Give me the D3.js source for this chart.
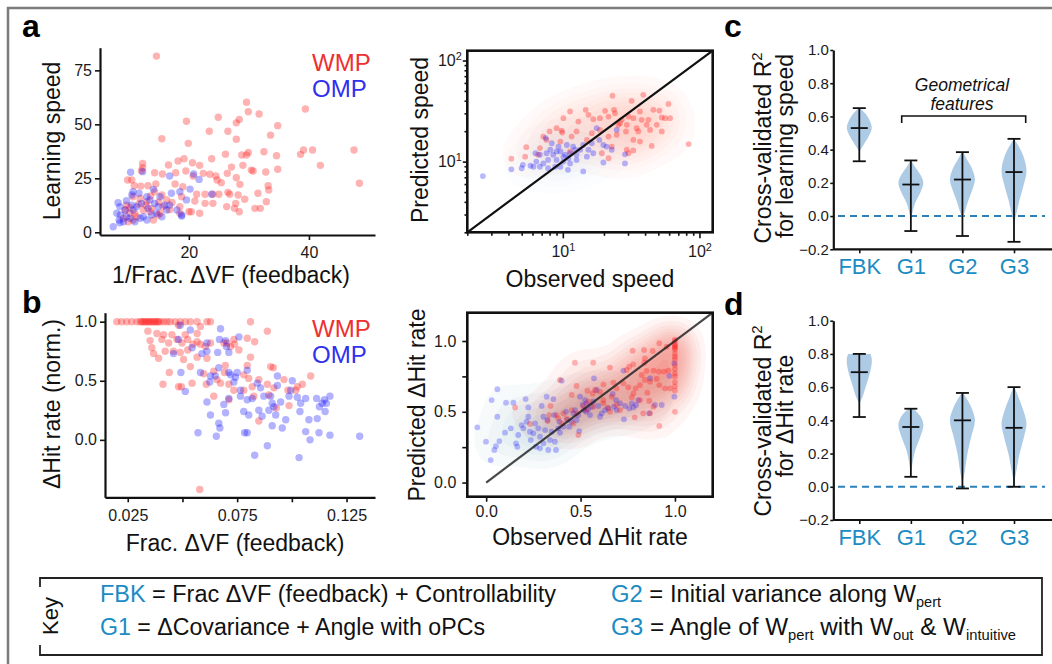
<!DOCTYPE html>
<html>
<head>
<meta charset="utf-8">
<script src="https://cdn.jsdelivr.net/npm/d3@7"></script>
<style>
body { margin: 0; background: #fff; }
svg { display: block; font-family: "Liberation Sans", Arial, sans-serif; }
</style>
</head>
<body>
<svg id="fig" width="1052" height="664"></svg>
<script>
// ---- panel a, left: 1/Frac dVF vs learning speed
const speedRed = [[14.6,81.6],[29.6,60.2],[29.9,55.8],[31.7,54.8],[24.9,53.3],[28.4,52.3],[27.9,50.7],[19.6,51.4],[34.8,49.4],[39.4,57.1],[23.4,46.8],[26.5,46.8],[33.6,45],[15.5,43.3],[27.9,43.1],[19.9,41.2],[29.9,37],[29.6,35.8],[32.5,37.3],[26.1,36.2],[28.8,35.8],[34.6,35.5],[38.6,36.1],[39.1,38.1],[40.6,38.1],[41.9,31],[47.5,38.1],[48.4,22.7],[23.8,34.1],[19.2,34.1],[18.2,33],[20.6,32.2],[21.8,31],[16.6,31.2],[12.3,31.9],[12.3,29.9],[12.1,28.5],[29,31],[30.4,28.8],[30.7,28.4],[34.8,29.2],[32.8,27.9],[27.1,30.2],[26.4,27.3],[24.5,26.1],[23.5,26.9],[22.4,27.3],[19.5,28.4],[17.8,27.6],[15.6,27],[14.3,27.6],[20.7,26.1],[24.7,24.2],[25.4,23],[27.9,25.3],[28.5,22.2],[33.2,21.6],[33.3,19.6],[9.8,24.2],[10.5,24.2],[10.9,21.6],[12,21.4],[13.2,21.6],[14.5,22.4],[17.7,22.4],[19,21.1],[21.3,17.6],[22.7,17.6],[24,17.6],[25,17.6],[26.5,18.5],[26.8,17.6],[28.2,17.3],[29.3,15.3],[31.5,18.1],[32.9,14.2],[22.7,13.4],[24,13.4],[26.3,11.9],[27.8,13.4],[27.6,11.1],[28.4,9.5],[31,11.1],[31.9,11.1],[20,9.5],[20.4,9.5],[21.8,8.8],[18.5,11.9],[18.5,8.8],[16.3,15],[15.5,17.3],[14.3,18.8],[10.7,16.5],[11.9,15.7],[13,14.2],[9.6,12.6],[9.4,10.3],[10.2,8.8],[11,8.8],[12.4,10.3],[13.8,11.1],[14.1,5.7],[9.9,4.9],[10.7,5.7],[11.3,7.2],[14.9,8],[9.1,6.5],[15.7,11.9],[15.2,8.8],[13.5,9.5],[12.8,12.5],[16.8,10.5],[17.2,13.8],[11.6,13],[10.2,11.5],[15,14],[13.6,16.8],[18.8,16.5],[21,14.5]];
const speedBlue = [[7.4,2.6],[10.3,27.8],[12.3,28.1],[16.8,26.1],[21.7,24.5],[20.8,27],[20.2,20],[23.8,17.6],[19.6,15],[10.7,18.8],[10.5,17.3],[14.1,19.9],[17.1,18.1],[18.5,18.8],[18.8,8],[8.2,13.7],[8.5,11.9],[9.6,14.6],[8.6,8],[8.4,5.7],[9.1,4.9],[8.5,4.4],[9.6,7.2],[10.7,10.3],[11.3,11.9],[12.1,13.4],[12.4,7.2],[13.2,11.1],[13.5,15],[14.3,13.4],[14.9,11.9],[15.2,16.5],[16,12.6],[16.3,10.3],[13,5.7],[11.9,6.5],[11,4.9],[10.2,6.5],[14.6,8.8],[16.8,12.6],[18,10.3],[13,16.5],[11.7,18.1],[9.4,10.3],[8,8.8],[15.5,7.2],[13.8,8],[10.5,12.6],[18.8,7.5]];
const speedTicksX = [20, 40];
const speedTicksY = [0, 25, 50, 75];

// ---- panel b, left: Frac dVF vs dHit rate
const hitRed = [[0.0200,1],[0.0222,1],[0.0245,1],[0.0268,1],[0.0291,1],[0.0307,1],[0.0315,1],[0.0322,1],[0.0330,1],[0.0337,1],[0.0345,1],[0.0352,1],[0.0360,1],[0.0368,1],[0.0375,1],[0.0383,1],[0.0390,1],[0.0398,1],[0.0414,1],[0.0429,1],[0.0444,1],[0.0467,1],[0.0490,1],[0.0513,1],[0.0536,1],[0.0567,1],[0.0612,1],[0.0628,1],[0.0811,1],[0.0342,0.92],[0.0383,0.90],[0.0352,0.84],[0.0360,0.78],[0.0414,0.89],[0.0406,0.85],[0.0437,0.82],[0.0452,0.89],[0.0475,0.85],[0.0498,0.82],[0.0459,0.75],[0.0490,0.74],[0.0524,0.76],[0.0548,0.81],[0.0567,0.83],[0.0582,0.81],[0.0605,0.79],[0.0628,0.82],[0.0567,0.70],[0.0612,0.69],[0.0536,0.62],[0.0505,0.68],[0.0440,0.57],[0.0411,0.47],[0.0495,0.45],[0.0544,0.48],[0.0597,0.56],[0.0643,0.58],[0.0658,0.51],[0.0674,0.48],[0.0712,0.47],[0.0712,0.34],[0.0643,0.37],[0.0609,0.47],[0.0735,0.85],[0.0738,0.81],[0.0720,0.79],[0.0758,0.76],[0.0796,0.86],[0.0830,0.83],[0.0811,0.70],[0.0796,0.63],[0.0780,0.55],[0.0803,0.52],[0.0849,0.51],[0.0888,0.92],[0.0903,0.62],[0.0915,0.61],[0.0888,0.47],[0.0918,0.44],[0.0895,0.38],[0.0964,0.51],[0.0982,0.42],[0.1025,0.45],[0.1048,0.47],[0.1018,0.42],[0.0987,0.29],[0.1086,0.54],[0.0849,0.16],[0.0929,0.27],[0.0579,-0.42],[0.0482,0.45],[0.0692,0.57],[0.0735,0.42],[0.0780,0.42],[0.0819,0.45],[0.0826,0.37],[0.0368,0.73],[0.0391,0.69],[0.0421,0.75],[0.0513,0.89],[0.0524,0.85],[0.0567,0.90],[0.0482,0.97],[0.0582,0.96],[0.0696,0.63],[0.0689,0.82],[0.0704,0.82]];
const hitBlue = [[0.0490,0.97],[0.0482,0.85],[0.0536,0.93],[0.0459,0.73],[0.0493,0.57],[0.0513,0.41],[0.0544,0.78],[0.0582,0.57],[0.0589,0.73],[0.0612,0.75],[0.0612,0.82],[0.0628,0.54],[0.0625,0.49],[0.0650,0.54],[0.0661,0.74],[0.0669,0.85],[0.0674,0.94],[0.0697,0.84],[0.0701,0.79],[0.0712,0.74],[0.0712,0.57],[0.0720,0.55],[0.0735,0.49],[0.0742,0.53],[0.0750,0.57],[0.0758,0.87],[0.0765,0.42],[0.0765,0.37],[0.0796,0.34],[0.0819,0.35],[0.0842,0.48],[0.0857,0.44],[0.0872,0.37],[0.0849,0.25],[0.0864,0.20],[0.0903,0.37],[0.0910,0.31],[0.0918,0.28],[0.0926,0.21],[0.0934,0.46],[0.0949,0.32],[0.0972,0.17],[0.0910,0.12],[0.0956,0.10],[0.0995,0.42],[0.1002,0.50],[0.1025,0.36],[0.1037,0.24],[0.1040,0.31],[0.1063,0.35],[0.1063,0.07],[0.1078,0.17],[0.1113,0.35],[0.1116,0.18],[0.1126,0.28],[0.1139,0.31],[0.1149,0.34],[0.1158,0.31],[0.1174,0.37],[0.1152,0.24],[0.1124,0.06],[0.1174,0.04],[0.1083,0.00],[0.1033,-0.15],[0.0888,-0.05],[0.0830,-0.13],[0.0796,0.06],[0.0784,0.06],[0.0655,0.03],[0.0571,0.06],[0.0666,0.14],[0.0671,0.10],[0.0697,0.23],[0.0628,0.21],[0.0612,0.32],[0.0689,0.30],[0.0712,0.35],[0.0780,0.24],[0.0803,0.21],[0.0895,0.25],[0.0987,0.37],[0.0934,0.54],[0.0796,0.59],[0.0666,0.61],[0.1310,0.03]];
const hitTicksX = [0.025, 0.05, 0.075, 0.1, 0.125];
const hitTicksY = [0, 0.5, 1];

// ---- panel a, middle: observed vs predicted speed (log-log)
const predSpeedRed = [[23.1,44.8],[38.8,45.8],[31.9,39.9],[59.3,37.2],[11.3,31.3],[14.7,32.5],[20.4,31.8],[23.7,32.5],[46,32.5],[50.9,32],[10.1,26.9],[15.4,29],[13,24.9],[16.7,26.3],[18.7,26.9],[21.6,27.9],[27,25.9],[30.2,27.9],[32.8,26.9],[36.7,31.3],[37.8,25.9],[42.3,25.9],[53,27.3],[56,26.9],[60.9,26.9],[48.7,23.1],[53,19.9],[43.5,20.6],[34.7,21.4],[25.5,23.1],[29,19.9],[24.8,18.4],[21.6,17.7],[18.7,20.6],[12.6,19.9],[9.8,20.3],[9,21.4],[8,19.9],[7.2,17.7],[11.6,17.7],[9.6,15.8],[15,16.4],[32.8,16.4],[36.7,15.8],[29.4,13.1],[30.2,12.1],[32.8,12.9],[44.7,14.3],[83.4,14.9],[6.8,13.6],[6.6,11.7],[5.4,13.9],[5.3,11.2],[4.2,10.7],[11.3,12.6],[19.3,12.1],[21.6,10.8],[7.6,16.4],[9.9,19.4],[24.1,30.1],[26.2,24],[29.4,23.1],[35.7,19.9],[41.1,23.1],[16.3,19.1],[22.8,14.1]];
const predSpeedBlue = [[2.6,7.2],[4.2,8.4],[5.1,9.3],[5.8,9.1],[6.4,10],[7.5,17.1],[8.3,15.2],[9.3,14.1],[10.7,14.6],[11.9,14.1],[13.4,13.1],[14.1,14.6],[16.3,15.2],[17.7,21.4],[18.5,16.4],[19.8,14.6],[24.8,20.6],[28.5,11.8],[28.5,9.6],[19.8,9.8],[14.1,8],[10.9,8.3],[9,10.4],[10.1,11.2],[8.5,11.7],[7.8,10.4],[7.2,9.6],[6.8,8.9],[7.8,8.6],[9.6,8.9],[11.3,9.6],[12.6,10.4],[15,11.2],[16.7,12.1],[11.3,12.1],[12.3,13.1],[9.6,12.6],[8.1,13.1],[6.8,11.7],[6.3,12.1],[7.6,12.1],[10.4,11.7],[11,10.8],[12.6,11.7],[20.9,14.1],[22.8,13.1],[15.4,13.1],[6.1,8.9],[5,8.6],[9,12.6],[10.1,10],[8.8,8.9]];
const logMajor = [10, 100];
const logMinor = [2, 3, 4, 5, 6, 7, 8, 9, 20, 30, 40, 50, 60, 70, 80, 90];

// ---- panel b, middle: observed vs predicted dHit rate
const predHitRed = [[1,1.01],[1,1.0],[1,0.98],[1,0.97],[1,0.96],[1,0.95],[1,0.94],[1,0.91],[1,0.89],[1,0.87],[1,0.83],[1,0.80],[1,0.77],[1,0.75],[1,0.71],[1,0.68],[1,0.65],[1,0.5],[0.776,0.932],[0.836,0.937],[0.882,0.93],[0.917,0.984],[0.956,0.96],[0.841,0.878],[0.838,0.847],[0.47,0.847],[0.567,0.847],[0.656,0.812],[0.744,0.795],[0.779,0.835],[0.758,0.819],[0.85,0.788],[0.886,0.791],[0.915,0.783],[0.942,0.783],[0.965,0.791],[0.824,0.76],[0.841,0.725],[0.868,0.713],[0.903,0.732],[0.917,0.689],[0.947,0.666],[0.974,0.666],[0.391,0.725],[0.479,0.682],[0.453,0.619],[0.536,0.649],[0.621,0.694],[0.674,0.706],[0.691,0.666],[0.727,0.701],[0.753,0.673],[0.792,0.666],[0.815,0.689],[0.78,0.63],[0.771,0.602],[0.815,0.583],[0.854,0.635],[0.864,0.576],[0.886,0.536],[0.832,0.489],[0.868,0.489],[0.787,0.461],[0.917,0.4],[0.665,0.607],[0.621,0.583],[0.603,0.642],[0.577,0.654],[0.564,0.63],[0.644,0.531],[0.621,0.56],[0.656,0.501],[0.567,0.536],[0.541,0.571],[0.515,0.541],[0.479,0.489],[0.453,0.512],[0.409,0.489],[0.382,0.454],[0.4,0.418],[0.373,0.477],[0.426,0.454],[0.488,0.336],[0.462,0.418],[0.341,0.541],[0.334,0.477],[0.153,0.531],[0.691,0.548],[0.709,0.512],[0.532,0.512],[0.232,0.414],[0.326,0.435]];
const predHitBlue = [[-0.047,0.39],[-0.001,0.289],[0.024,0.159],[0.043,0.23],[0.052,0.258],[0.059,0.659],[0.029,0.583],[0.059,0.465],[0.07,0.293],[0.1,0.352],[0.105,0.564],[0.13,0.383],[0.144,0.564],[0.158,0.277],[0.165,0.253],[0.17,0.336],[0.188,0.406],[0.197,0.383],[0.209,0.59],[0.214,0.43],[0.223,0.465],[0.223,0.531],[0.232,0.359],[0.236,0.3],[0.25,0.348],[0.259,0.418],[0.264,0.253],[0.276,0.383],[0.285,0.324],[0.285,0.242],[0.294,0.541],[0.303,0.465],[0.303,0.277],[0.312,0.371],[0.32,0.607],[0.324,0.442],[0.329,0.23],[0.338,0.3],[0.347,0.359],[0.356,0.59],[0.361,0.477],[0.364,0.289],[0.37,0.23],[0.382,0.383],[0.388,0.43],[0.4,0.72],[0.391,0.352],[0.409,0.395],[0.423,0.501],[0.43,0.442],[0.44,0.395],[0.453,0.43],[0.462,0.489],[0.47,0.512],[0.479,0.442],[0.488,0.477],[0.493,0.364],[0.497,0.607],[0.511,0.548],[0.518,0.512],[0.524,0.583],[0.532,0.56],[0.529,0.501],[0.541,0.517],[0.55,0.477],[0.559,0.536],[0.567,0.571],[0.571,0.736],[0.585,0.654],[0.594,0.541],[0.603,0.465],[0.612,0.489],[0.63,0.512],[0.647,0.524],[0.67,0.626],[0.677,0.536],[0.691,0.512],[0.709,0.56],[0.73,0.447],[0.736,0.541],[0.727,0.791],[0.758,0.524],[0.771,0.56],[0.78,0.531],[0.794,0.548],[0.806,0.583],[0.864,0.489],[0.868,0.736],[0.93,0.548],[0.97,0.753],[0.997,0.842],[0.997,0.607],[0.894,0.548],[0.688,0.583]];
const predHitTicksX = [0, 0.5, 1];
const predHitTicksY = [0, 0.25, 0.5, 0.75, 1];

// ---- panels c, d: cross-validated R2 violins
const catLabels = ['FBK', 'G1', 'G2', 'G3'];
const r2Ticks = [-0.2, 0, 0.2, 0.4, 0.6, 0.8, 1.0];
const speedR2Min = [0.33, -0.09, -0.12, -0.155];
const speedR2Max = [0.65, 0.335, 0.385, 0.465];
const speedR2Med = [0.53, 0.19, 0.22, 0.265];
const speedR2Shape = [
  [[0.39,0],[0.43,0.35],[0.48,0.75],[0.53,1],[0.58,0.8],[0.62,0.45],[0.65,0.05]],
  [[-0.03,0],[0.02,0.12],[0.08,0.35],[0.14,0.75],[0.2,1],[0.25,0.75],[0.3,0.3],[0.335,0.02]],
  [[-0.02,0],[0.04,0.25],[0.1,0.5],[0.16,0.8],[0.22,1],[0.28,0.8],[0.33,0.45],[0.385,0.05]],
  [[-0.05,0],[0.02,0.2],[0.1,0.45],[0.18,0.75],[0.27,1],[0.35,0.8],[0.41,0.45],[0.46,0.05]]
];
const hitR2Min = [0.42, 0.06, -0.01, 0.0];
const hitR2Max = [0.80, 0.47, 0.565, 0.60];
const hitR2Med = [0.69, 0.36, 0.40, 0.355];
const hitR2Shape = [
  [[0.5,0],[0.54,0.25],[0.6,0.5],[0.66,0.75],[0.72,0.95],[0.77,1],[0.8,0.9]],
  [[0.08,0],[0.15,0.15],[0.22,0.35],[0.3,0.75],[0.37,1],[0.42,0.8],[0.47,0.2]],
  [[0.02,0],[0.1,0.2],[0.2,0.4],[0.3,0.7],[0.4,1],[0.48,0.7],[0.53,0.35],[0.565,0.05]],
  [[0.02,0],[0.1,0.2],[0.2,0.45],[0.3,0.8],[0.38,1],[0.46,0.75],[0.54,0.35],[0.6,0.05]]
];

const RED = '#ff1414', BLUE = '#1414ff', INK = '#111', CAT = '#1b8bc3';
const svg = d3.select('#fig');

// outer frame
svg.append('path').attr('d', 'M8,664V8H1052')
  .attr('fill', 'none').attr('stroke', '#7b7b7b').attr('stroke-width', 2.5);

function fixAxis(g, fs, w) {
  g.attr('font-size', fs).attr('font-family', null);
  g.select('.domain').attr('stroke-width', w).attr('stroke', INK);
  g.selectAll('.tick line').attr('stroke-width', 1.6).attr('stroke', INK);
  g.selectAll('.tick text').attr('fill', '#1a1a1a');
}

function dots(g, pts, xs, ys, color, r, op) {
  g.append('g').selectAll('circle').data(pts).join('circle')
    .attr('cx', d => xs(d[0])).attr('cy', d => ys(d[1]))
    .attr('r', r).attr('fill', color).attr('fill-opacity', op);
}

function title(x, y, txt, rot, fs) {
  return svg.append('text')
    .attr('transform', `translate(${x},${y})` + (rot ? ' rotate(-90)' : ''))
    .attr('text-anchor', 'middle').attr('dominant-baseline', 'central')
    .attr('font-size', fs || 23).attr('fill', INK).text(txt);
}

function letter(x, y, t) {
  svg.append('text').attr('x', x).attr('y', y).attr('font-size', 32)
    .attr('font-weight', 'bold').attr('fill', '#000').text(t);
}

function legend(x, y) {
  svg.append('text').attr('x', x).attr('y', y).attr('font-size', 24)
    .attr('dominant-baseline', 'central').attr('fill', '#ee3030').text('WMP');
  svg.append('text').attr('x', x).attr('y', y + 26).attr('font-size', 24)
    .attr('dominant-baseline', 'central').attr('fill', '#3030ee').text('OMP');
}

function kde(g, pts, xs, ys, color, bw, n, op) {
  const [x0, x1] = xs.range(), [y1, y0] = ys.range();
  const dens = d3.contourDensity()
    .x(d => xs(d[0]) - x0).y(d => ys(d[1]) - y0)
    .size([x1 - x0, y1 - y0]).bandwidth(bw).thresholds(n)(pts);
  g.append('g').attr('transform', `translate(${x0},${y0})`)
    .selectAll('path').data(dens).join('path')
    .attr('d', d3.geoPath()).attr('fill', color).attr('fill-opacity', op);
}

function clipFor(id, xs, ys) {
  const [x0, x1] = xs.range(), [y1, y0] = ys.range();
  svg.append('clipPath').attr('id', id).append('rect')
    .attr('x', x0).attr('y', y0).attr('width', x1 - x0).attr('height', y1 - y0);
  return `url(#${id})`;
}

function box(xs, ys) {
  const [x0, x1] = xs.range(), [y1, y0] = ys.range();
  svg.append('rect').attr('x', x0).attr('y', y0).attr('width', x1 - x0).attr('height', y1 - y0)
    .attr('fill', 'none').attr('stroke', INK).attr('stroke-width', 2.6);
}

// ================= panel a left =================
letter(22, 37, 'a');
const aX = d3.scaleLinear().domain([5.2, 51]).range([100, 375]);
const aY = d3.scaleLinear().domain([-1.25, 85.5]).range([235, 47.7]);
const gA = svg.append('g');
dots(gA, speedRed, aX, aY, RED, 3.7, 0.33);
dots(gA, speedBlue, aX, aY, BLUE, 3.7, 0.33);
gA.append('g').attr('transform', 'translate(100,0)')
  .call(d3.axisLeft(aY).tickValues(speedTicksY).tickSize(5).tickPadding(3).tickSizeOuter(0))
  .call(fixAxis, 16, 2.2);
gA.append('g').attr('transform', 'translate(0,235)')
  .call(d3.axisBottom(aX).tickValues(speedTicksX).tickSize(5).tickPadding(7).tickSizeOuter(0))
  .call(fixAxis, 16, 2.2);
legend(312, 62);
title(52, 141, 'Learning speed', true);
title(231, 275, '1/Frac. \u0394VF (feedback)');

// ================= panel b left =================
letter(22, 313, 'b');
const bX = d3.scaleLinear().domain([0.0146, 0.138]).range([105, 375]);
const bY = d3.scaleLinear().domain([-0.486, 1.076]).range([497.3, 312.7]);
const gB = svg.append('g');
dots(gB, hitRed, bX, bY, RED, 3.7, 0.33);
dots(gB, hitBlue, bX, bY, BLUE, 3.7, 0.33);
gB.append('g').attr('transform', 'translate(105,0)')
  .call(d3.axisLeft(bY).tickValues(hitTicksY).tickFormat(d3.format('.1f')).tickSize(5).tickPadding(3).tickSizeOuter(0))
  .call(fixAxis, 16, 2.2);
gB.append('g').attr('transform', 'translate(0,497.3)')
  .call(d3.axisBottom(bX).tickValues(hitTicksX).tickFormat((d, i) => i % 2 ? '' : d3.format('.3f')(d))
    .tickSize(5).tickPadding(7).tickSizeOuter(0))
  .call(fixAxis, 16, 2.2);
legend(312, 328);
title(52, 404, '\u0394Hit rate (norm.)', true);
title(235, 543, 'Frac. \u0394VF (feedback)');

// ================= panel a middle (log-log) =================
const mX = d3.scaleLog().domain([2, 125]).range([467.3, 712.7]);
const mY = d3.scaleLog().domain([2, 125]).range([232.3, 50.7]);
const gM = svg.append('g').attr('clip-path', clipFor('clipM', mX, mY));
kde(gM, predSpeedBlue, mX, mY, '#8ab8e6', 15, 7, 0.025);
kde(gM, predSpeedRed, mX, mY, '#f36a5a', 16, 7, 0.035);
dots(gM, predSpeedRed, mX, mY, RED, 2.9, 0.32);
dots(gM, predSpeedBlue, mX, mY, BLUE, 2.9, 0.3);
svg.append('line').attr('x1', mX(2)).attr('y1', mY(2)).attr('x2', mX(125)).attr('y2', mY(125))
  .attr('stroke', INK).attr('stroke-width', 2.2);
function sup(g) {
  g.selectAll('.tick text').text('10').append('tspan')
    .attr('dy', '-0.55em').attr('font-size', '0.68em').text(d => Math.round(Math.log10(d)));
}
svg.append('g').attr('transform', 'translate(467.3,0)')
  .call(d3.axisLeft(mY).tickValues(logMinor).tickSize(2.8).tickFormat('').tickSizeOuter(0))
  .call(fixAxis, 16, 0).call(g => g.select('.domain').remove());
svg.append('g').attr('transform', 'translate(467.3,0)')
  .call(d3.axisLeft(mY).tickValues(logMajor).tickSize(4.5).tickPadding(1).tickSizeOuter(0))
  .call(fixAxis, 16, 0).call(g => g.select('.domain').remove()).call(sup);
svg.append('g').attr('transform', 'translate(0,232.3)')
  .call(d3.axisBottom(mX).tickValues(logMinor).tickSize(3.5).tickFormat('').tickSizeOuter(0))
  .call(fixAxis, 16, 0).call(g => g.select('.domain').remove());
svg.append('g').attr('transform', 'translate(0,232.3)')
  .call(d3.axisBottom(mX).tickValues(logMajor).tickSize(6).tickPadding(7).tickSizeOuter(0))
  .call(fixAxis, 16, 0).call(g => g.select('.domain').remove()).call(sup);
box(mX, mY);
title(420, 140, 'Predicted speed', true);
title(590, 279, 'Observed speed');

// ================= panel b middle =================
const nX = d3.scaleLinear().domain([-0.1, 1.2]).range([467.3, 712.7]);
const nY = d3.scaleLinear().domain([-0.1, 1.2]).range([496.7, 312.7]);
const gN = svg.append('g').attr('clip-path', clipFor('clipN', nX, nY));
kde(gN, predHitBlue, nX, nY, '#4a82aa', 14, 8, 0.045);
kde(gN, predHitRed, nX, nY, '#f03a2a', 13, 9, 0.05);
dots(gN, predHitBlue, nX, nY, BLUE, 2.9, 0.28);
dots(gN, predHitRed, nX, nY, RED, 2.9, 0.3);
svg.append('line').attr('x1', nX(0)).attr('y1', nY(0)).attr('x2', nX(1.2)).attr('y2', nY(1.2))
  .attr('stroke', '#1a1a1a').attr('stroke-opacity', 0.8).attr('stroke-width', 2.2);
svg.append('g').attr('transform', 'translate(467.3,0)')
  .call(d3.axisLeft(nY).tickValues(predHitTicksY).tickFormat(d => d * 2 % 1 ? '' : d3.format('.1f')(d))
    .tickSize(5).tickPadding(6).tickSizeOuter(0))
  .call(fixAxis, 16, 0).call(g => g.select('.domain').remove());
svg.append('g').attr('transform', 'translate(0,496.7)')
  .call(d3.axisBottom(nX).tickValues(predHitTicksX).tickFormat(d3.format('.1f'))
    .tickSize(5).tickPadding(4).tickSizeOuter(0))
  .call(fixAxis, 16, 0).call(g => g.select('.domain').remove());
box(nX, nY);
title(417, 405, 'Predicted \u0394Hit rate', true);
title(590, 537, 'Observed \u0394Hit rate');

// ================= violin panels c, d =================
const catX = d3.scalePoint().domain(catLabels).range([859.3, 1014]);
const halfW = d3.scaleLinear().domain([0, 1]).range([0, 12.5]);

function violins(y0, y1, mins, maxs, meds, shapes) {
  const y = d3.scaleLinear().domain([-0.2, 1.0]).range([y0, y1]);
  const g = svg.append('g');
  g.append('line').attr('x1', 838).attr('x2', 1045).attr('y1', y(0)).attr('y2', y(0))
    .attr('stroke', '#2f80b8').attr('stroke-width', 2).attr('stroke-dasharray', '7,5');
  shapes.forEach((s, i) => {
    const cx = catX(catLabels[i]);
    const area = d3.area().curve(d3.curveCatmullRom)
      .y(d => y(d[0])).x0(d => cx - halfW(d[1])).x1(d => cx + halfW(d[1]));
    g.append('path').attr('d', area(s)).attr('fill', '#aecbe6');
    const bar = g.append('g').attr('stroke', INK).attr('stroke-width', 1.8);
    bar.append('line').attr('x1', cx).attr('x2', cx).attr('y1', y(mins[i])).attr('y2', y(maxs[i]));
    [mins[i], maxs[i]].forEach(v => bar.append('line')
      .attr('x1', cx - 6.5).attr('x2', cx + 6.5).attr('y1', y(v)).attr('y2', y(v)));
    bar.append('line').attr('x1', cx - 8.5).attr('x2', cx + 8.5).attr('y1', y(meds[i])).attr('y2', y(meds[i]));
  });
  g.append('g').attr('transform', 'translate(833.3,0)')
    .call(d3.axisLeft(y).tickValues(r2Ticks).tickFormat(d3.format('.1f')).tickSize(3).tickPadding(1.5).tickSizeOuter(0))
    .call(fixAxis, 15, 2.2);
  g.append('line').attr('x1', 833.3).attr('x2', 1052).attr('y1', y0).attr('y2', y0)
    .attr('stroke', INK).attr('stroke-width', 2.2);
  g.append('g').attr('transform', `translate(0,${y0})`)
    .call(d3.axisBottom(catX).tickSize(4).tickPadding(5.5).tickSizeOuter(0))
    .call(fixAxis, 22, 0).call(a => a.select('.domain').remove())
    .call(a => a.selectAll('.tick text').attr('fill', CAT));
  return y;
}

function r2Title(cy1, cy2, second) {
  const t = title(763, cy1, 'Cross-validated R', true);
  t.append('tspan').attr('dy', '-0.5em').attr('font-size', '0.65em').text('2');
  title(785, cy2, second, true);
}

letter(724, 37, 'c');
violins(249.3, 50, speedR2Min, speedR2Max, speedR2Med, speedR2Shape);
r2Title(148, 146, 'for learning speed');
svg.append('text').attr('x', 962).attr('y', 85).attr('text-anchor', 'middle').attr('dominant-baseline', 'central')
  .attr('font-size', 17.5).attr('font-style', 'italic').attr('fill', INK).text('Geometrical');
svg.append('text').attr('x', 962).attr('y', 104).attr('text-anchor', 'middle').attr('dominant-baseline', 'central')
  .attr('font-size', 17.5).attr('font-style', 'italic').attr('fill', INK).text('features');
svg.append('path').attr('d', 'M901.7,123V116H1025.7V123').attr('fill', 'none')
  .attr('stroke', INK).attr('stroke-width', 1.6);

letter(724, 315, 'd');
violins(520, 320.7, hitR2Min, hitR2Max, hitR2Med, hitR2Shape);
r2Title(421, 416, 'for \u0394Hit rate');

// ================= key =================
svg.append('path').attr('d', 'M40,587V578H1042V655H40V645')
  .attr('fill', 'none').attr('stroke', '#222').attr('stroke-width', 1.8);
title(50, 616, 'Key', true, 22);

function keyLine(x, y, segs, len) {
  const t = svg.append('text').attr('x', x).attr('y', y).attr('font-size', 23).attr('fill', INK)
    .attr('textLength', len).attr('lengthAdjust', 'spacingAndGlyphs');
  let shift = 0;
  segs.forEach(s => {
    const want = s[1] === 'sub' ? 5 : 0;
    const sp = t.append('tspan').attr('dy', want - shift).text(s[0]);
    shift = want;
    if (s[1] === 'c') sp.attr('fill', CAT);
    if (s[1] === 'sub') sp.attr('font-size', 14);
  });
}
keyLine(100, 602, [['FBK', 'c'], [' = Frac \u0394VF (feedback) + Controllability']], 456);
keyLine(100, 635, [['G1', 'c'], [' = \u0394Covariance + Angle with oPCs']], 385);
keyLine(611, 602, [['G2', 'c'], [' = Initial variance along W'], ['pert', 'sub']], 330);
keyLine(611, 635, [['G3', 'c'], [' = Angle of W'], ['pert', 'sub'], [' with W'], ['out', 'sub'], [' & W'], ['intuitive', 'sub']], 405);
</script>
</body>
</html>
